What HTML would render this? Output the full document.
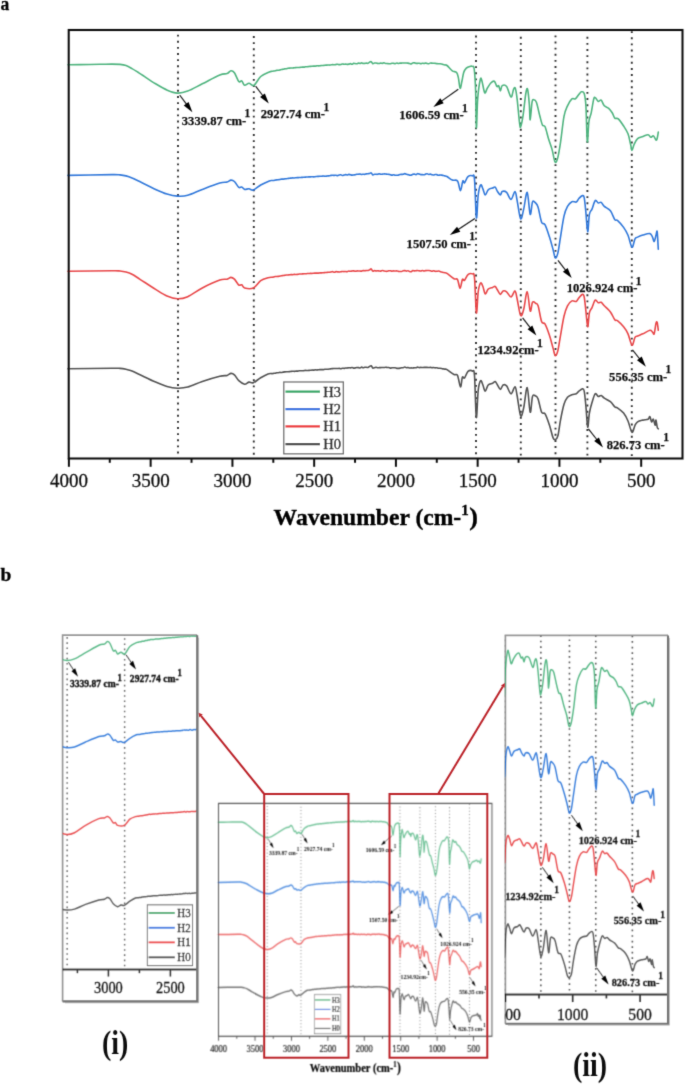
<!DOCTYPE html><html><head><meta charset="utf-8"><title>FTIR</title><style>html,body{margin:0;padding:0;background:#fff;width:685px;height:1085px;overflow:hidden}svg{display:block}</style></head><body>
<svg width="685" height="1085" viewBox="0 0 685 1085">
<defs><g id="fig"><line x1="178.0" y1="34.7" x2="178.0" y2="457" style="stroke:var(--dc,#333)" stroke-width="1.9" stroke-dasharray="1.9 4.23"/>
<line x1="253.8" y1="36.0" x2="253.8" y2="457" style="stroke:var(--dc,#333)" stroke-width="1.9" stroke-dasharray="1.9 4.23"/>
<line x1="476.0" y1="35.5" x2="476.0" y2="457" style="stroke:var(--dc,#333)" stroke-width="1.9" stroke-dasharray="1.9 4.23"/>
<line x1="520.8" y1="36.8" x2="520.8" y2="457" style="stroke:var(--dc,#333)" stroke-width="1.9" stroke-dasharray="1.9 4.23"/>
<line x1="555.5" y1="35.4" x2="555.5" y2="457" style="stroke:var(--dc,#333)" stroke-width="1.9" stroke-dasharray="1.9 4.23"/>
<line x1="587.4" y1="36.8" x2="587.4" y2="457" style="stroke:var(--dc,#333)" stroke-width="1.9" stroke-dasharray="1.9 4.23"/>
<line x1="631.8" y1="31.2" x2="631.8" y2="457" style="stroke:var(--dc,#333)" stroke-width="1.9" stroke-dasharray="1.9 4.23"/>
<path d="M68.00,64.80C70.00,64.77 74.67,64.68 80.00,64.60C85.33,64.52 94.67,64.38 100.00,64.30C105.33,64.22 108.67,64.08 112.00,64.10C115.33,64.12 117.67,64.15 120.00,64.40C122.33,64.65 124.00,64.90 126.00,65.60C128.00,66.30 130.00,67.48 132.00,68.60C134.00,69.72 136.17,71.15 138.00,72.30C139.83,73.45 140.07,73.58 143.00,75.50C145.93,77.42 151.55,81.35 155.60,83.80C159.65,86.25 163.65,88.65 167.30,90.20C170.95,91.75 174.10,92.95 177.50,93.10C180.90,93.25 183.57,92.65 187.70,91.10C191.83,89.55 196.95,86.48 202.30,83.80C207.65,81.12 215.67,76.70 219.80,75.00C223.93,73.30 225.25,74.32 227.10,73.60C228.95,72.88 229.68,70.85 230.90,70.70C232.12,70.55 233.08,70.90 234.40,72.70C235.72,74.50 237.58,80.13 238.80,81.50C240.02,82.87 240.73,80.27 241.70,80.90C242.67,81.53 243.38,84.92 244.60,85.30C245.82,85.68 247.43,83.20 249.00,83.20C250.57,83.20 252.05,86.42 254.00,85.30C255.95,84.18 258.15,78.73 260.70,76.50C263.25,74.27 267.42,72.76 269.30,71.90C271.18,71.04 271.28,71.49 272.00,71.34C272.72,71.19 273.07,71.08 273.60,70.99C274.13,70.91 274.67,70.95 275.20,70.84C275.73,70.74 276.27,70.48 276.80,70.37C277.33,70.27 277.87,70.30 278.40,70.21C278.93,70.13 279.47,69.99 280.00,69.86C280.53,69.74 281.07,69.57 281.60,69.47C282.13,69.38 282.67,69.41 283.20,69.31C283.73,69.21 284.27,68.97 284.80,68.87C285.33,68.77 285.87,68.79 286.40,68.69C286.93,68.59 287.47,68.38 288.00,68.28C288.53,68.18 289.07,68.13 289.60,68.09C290.13,68.05 290.67,68.06 291.20,68.05C291.73,68.05 292.27,68.10 292.80,68.04C293.33,67.98 293.87,67.77 294.40,67.69C294.93,67.61 295.47,67.60 296.00,67.58C296.53,67.56 297.07,67.58 297.60,67.57C298.13,67.56 298.67,67.58 299.20,67.53C299.73,67.48 300.27,67.35 300.80,67.28C301.33,67.21 301.87,67.11 302.40,67.09C302.93,67.06 303.47,67.19 304.00,67.12C304.53,67.06 305.07,66.76 305.60,66.71C306.13,66.66 306.67,66.85 307.20,66.82C307.73,66.78 308.27,66.59 308.80,66.51C309.33,66.43 309.87,66.38 310.40,66.33C310.93,66.27 311.47,66.22 312.00,66.18C312.53,66.14 313.07,66.11 313.60,66.10C314.13,66.09 314.67,66.18 315.20,66.13C315.73,66.08 316.27,65.88 316.80,65.83C317.33,65.78 317.87,65.85 318.40,65.83C318.93,65.82 319.47,65.78 320.00,65.74C320.53,65.69 321.07,65.59 321.60,65.54C322.13,65.50 322.67,65.53 323.20,65.48C323.73,65.43 324.27,65.28 324.80,65.22C325.33,65.16 325.87,65.14 326.40,65.11C326.93,65.08 327.47,65.04 328.00,65.04C328.53,65.03 329.07,65.10 329.60,65.07C330.13,65.03 330.67,64.91 331.20,64.83C331.73,64.76 332.27,64.63 332.80,64.62C333.33,64.60 333.87,64.76 334.40,64.75C334.93,64.73 335.47,64.59 336.00,64.51C336.53,64.44 337.07,64.26 337.60,64.28C338.13,64.30 338.67,64.62 339.20,64.65C339.73,64.69 340.27,64.60 340.80,64.49C341.33,64.38 341.87,64.05 342.40,64.00C342.93,63.96 343.47,64.21 344.00,64.23C344.53,64.24 345.07,64.09 345.60,64.11C346.13,64.13 346.67,64.34 347.20,64.35C347.73,64.35 348.27,64.25 348.80,64.14C349.33,64.03 349.87,63.65 350.40,63.67C350.93,63.68 351.47,64.26 352.00,64.21C352.53,64.16 353.07,63.47 353.60,63.36C354.13,63.25 354.67,63.48 355.20,63.56C355.73,63.63 356.27,63.85 356.80,63.78C357.33,63.72 357.87,63.23 358.40,63.16C358.93,63.10 359.47,63.43 360.00,63.39C360.53,63.35 361.07,62.91 361.60,62.91C362.13,62.91 362.67,63.32 363.20,63.40C363.73,63.49 364.27,63.45 364.80,63.41C365.33,63.37 365.87,63.17 366.40,63.16C366.93,63.16 367.47,63.53 368.00,63.36C368.53,63.19 369.07,62.42 369.60,62.14C370.13,61.86 370.67,61.43 371.20,61.69C371.73,61.96 372.27,63.50 372.80,63.73C373.33,63.97 373.87,63.20 374.40,63.08C374.93,62.96 375.47,62.94 376.00,63.00C376.53,63.05 377.07,63.29 377.60,63.38C378.13,63.47 378.67,63.56 379.20,63.51C379.73,63.47 380.27,63.16 380.80,63.13C381.33,63.10 381.87,63.39 382.40,63.34C382.93,63.29 383.47,62.82 384.00,62.84C384.53,62.86 385.07,63.35 385.60,63.45C386.13,63.56 386.67,63.39 387.20,63.45C387.73,63.50 388.27,63.76 388.80,63.80C389.33,63.84 389.87,63.78 390.40,63.68C390.93,63.59 391.47,63.29 392.00,63.24C392.53,63.19 393.07,63.30 393.60,63.37C394.13,63.44 394.67,63.70 395.20,63.65C395.73,63.59 396.27,63.09 396.80,63.05C397.33,63.01 397.87,63.41 398.40,63.43C398.93,63.45 399.47,63.21 400.00,63.15C400.53,63.10 401.07,63.12 401.60,63.09C402.13,63.06 402.67,63.02 403.20,63.00C403.73,62.98 404.27,62.98 404.80,62.97C405.33,62.97 405.87,62.93 406.40,62.96C406.93,62.99 407.47,63.05 408.00,63.15C408.53,63.24 409.07,63.38 409.60,63.53C410.13,63.68 410.67,64.15 411.20,64.05C411.73,63.94 412.27,63.10 412.80,62.90C413.33,62.71 413.87,62.81 414.40,62.88C414.93,62.95 415.47,63.26 416.00,63.34C416.53,63.43 417.07,63.40 417.60,63.37C418.13,63.35 418.67,63.14 419.20,63.18C419.73,63.21 420.27,63.58 420.80,63.58C421.33,63.59 421.87,63.20 422.40,63.19C422.93,63.18 423.47,63.56 424.00,63.54C424.53,63.52 425.07,63.09 425.60,63.09C426.13,63.09 426.67,63.46 427.20,63.56C427.73,63.67 428.27,63.79 428.80,63.70C429.33,63.62 429.87,63.14 430.40,63.05C430.93,62.96 431.47,63.11 432.00,63.14C432.53,63.18 433.07,63.24 433.60,63.27C434.13,63.30 434.67,63.28 435.20,63.34C435.73,63.40 436.27,63.56 436.80,63.64C437.33,63.72 437.87,63.80 438.40,63.81C438.93,63.82 439.47,63.67 440.00,63.71C440.53,63.74 441.07,63.85 441.60,63.99C442.13,64.13 442.67,64.39 443.20,64.54C443.73,64.70 444.17,64.75 444.80,64.91C445.43,65.07 445.75,64.52 447.00,65.50C448.25,66.48 450.70,69.63 452.30,70.80C453.90,71.97 455.58,71.33 456.60,72.50C457.62,73.67 457.82,75.17 458.40,77.80C458.98,80.43 459.52,87.72 460.10,88.30C460.68,88.88 461.30,83.93 461.90,81.30C462.50,78.67 462.97,74.70 463.70,72.50C464.43,70.30 465.28,69.12 466.30,68.10C467.32,67.08 468.78,66.68 469.80,66.40C470.82,66.12 471.67,65.97 472.40,66.40C473.13,66.83 473.67,65.07 474.20,69.00C474.73,72.93 475.23,80.22 475.60,90.00C475.97,99.78 476.05,126.23 476.40,127.70C476.75,129.17 477.05,106.83 477.70,98.80C478.35,90.77 479.58,82.42 480.30,79.50C481.02,76.58 481.27,79.10 482.00,81.30C482.73,83.50 483.82,91.53 484.70,92.70C485.58,93.87 486.28,89.92 487.30,88.30C488.32,86.68 489.63,84.17 490.80,83.00C491.97,81.83 493.28,80.72 494.30,81.30C495.32,81.88 496.17,85.77 496.90,86.50C497.63,87.23 498.12,84.97 498.70,85.70C499.28,86.43 499.82,90.90 500.40,90.90C500.98,90.90 501.17,86.43 502.20,85.70C503.23,84.97 505.13,84.62 506.60,86.50C508.07,88.38 509.83,96.55 511.00,97.00C512.17,97.45 512.88,90.65 513.60,89.20C514.32,87.75 514.72,86.70 515.30,88.30C515.88,89.90 516.37,92.82 517.10,98.80C517.83,104.78 519.07,119.67 519.70,124.20C520.33,128.73 520.32,127.60 520.90,126.00C521.48,124.40 522.38,120.02 523.20,114.60C524.02,109.18 525.07,97.73 525.80,93.50C526.53,89.27 527.02,87.45 527.60,89.20C528.18,90.95 528.87,98.90 529.30,104.00C529.73,109.10 529.75,120.08 530.20,119.80C530.65,119.52 531.42,105.65 532.00,102.30C532.58,98.95 532.97,99.70 533.70,99.70C534.43,99.70 535.37,99.53 536.40,102.30C537.43,105.07 538.88,112.50 539.90,116.30C540.92,120.10 541.63,123.35 542.50,125.10C543.37,126.85 544.08,124.47 545.10,126.80C546.12,129.13 547.43,135.30 548.60,139.10C549.77,142.90 551.03,145.80 552.10,149.60C553.17,153.40 554.08,160.43 555.00,161.90C555.92,163.37 556.68,161.62 557.60,158.40C558.52,155.18 559.43,149.62 560.50,142.60C561.57,135.58 562.83,122.43 564.00,116.30C565.17,110.17 566.18,108.72 567.50,105.80C568.82,102.88 570.58,99.97 571.90,98.80C573.22,97.63 574.23,99.53 575.40,98.80C576.57,98.07 577.88,95.57 578.90,94.40C579.92,93.23 580.62,91.95 581.50,91.80C582.38,91.65 583.47,91.17 584.20,93.50C584.93,95.83 585.38,97.77 585.90,105.80C586.42,113.83 586.80,139.07 587.30,141.70C587.80,144.33 588.25,126.42 588.90,121.60C589.55,116.78 590.38,116.60 591.20,112.80C592.02,109.00 593.08,101.28 593.80,98.80C594.52,96.32 594.77,97.47 595.50,97.90C596.23,98.33 597.25,101.02 598.20,101.40C599.15,101.78 600.18,99.47 601.20,100.20C602.22,100.93 603.05,104.43 604.30,105.80C605.55,107.17 607.38,107.23 608.70,108.40C610.02,109.57 611.18,111.18 612.20,112.80C613.22,114.42 613.78,117.08 614.80,118.10C615.82,119.12 616.83,117.58 618.30,118.90C619.77,120.22 621.98,123.52 623.60,126.00C625.22,128.48 626.83,130.75 628.00,133.80C629.17,136.85 629.93,141.52 630.60,144.30C631.27,147.08 631.42,150.50 632.00,150.50C632.58,150.50 633.17,146.27 634.10,144.30C635.03,142.33 636.13,140.00 637.60,138.70C639.07,137.40 641.15,137.17 642.90,136.50C644.65,135.83 646.80,134.57 648.10,134.70C649.40,134.83 649.82,137.10 650.70,137.30C651.58,137.50 652.52,135.45 653.40,135.90C654.28,136.35 655.37,139.62 656.00,140.00C656.63,140.38 656.82,139.52 657.20,138.20C657.58,136.88 658.12,133.12 658.30,132.10" fill="none" stroke="#4fb47f" style="stroke-width:var(--tw,1.6);stroke-opacity:var(--to,1)" stroke-linejoin="round" stroke-linecap="round"/>
<path d="M68.00,175.40C75.33,175.27 103.33,174.68 112.00,174.60C120.67,174.52 117.67,174.68 120.00,174.90C122.33,175.12 124.00,175.40 126.00,175.90C128.00,176.40 130.00,177.08 132.00,177.90C134.00,178.72 134.07,178.88 138.00,180.80C141.93,182.72 150.77,187.20 155.60,189.40C160.43,191.60 163.35,192.88 167.00,194.00C170.65,195.12 174.05,195.88 177.50,196.10C180.95,196.32 183.57,196.42 187.70,195.30C191.83,194.18 196.95,191.45 202.30,189.40C207.65,187.35 215.67,184.22 219.80,183.00C223.93,181.78 225.25,182.58 227.10,182.10C228.95,181.62 229.68,180.20 230.90,180.10C232.12,180.00 233.08,180.28 234.40,181.50C235.72,182.72 237.58,186.48 238.80,187.40C240.02,188.32 240.73,186.67 241.70,187.00C242.67,187.33 243.38,189.10 244.60,189.40C245.82,189.70 247.53,188.70 249.00,188.80C250.47,188.90 251.45,190.63 253.40,190.00C255.35,189.37 258.05,186.52 260.70,185.00C263.35,183.48 267.42,181.64 269.30,180.90C271.18,180.16 271.28,180.63 272.00,180.56C272.72,180.48 273.07,180.52 273.60,180.46C274.13,180.39 274.67,180.26 275.20,180.16C275.73,180.07 276.27,179.97 276.80,179.89C277.33,179.82 277.87,179.77 278.40,179.71C278.93,179.65 279.47,179.61 280.00,179.51C280.53,179.41 281.07,179.17 281.60,179.11C282.13,179.05 282.67,179.18 283.20,179.15C283.73,179.11 284.27,178.97 284.80,178.90C285.33,178.82 285.87,178.78 286.40,178.71C286.93,178.64 287.47,178.55 288.00,178.47C288.53,178.39 289.07,178.27 289.60,178.21C290.13,178.15 290.67,178.16 291.20,178.11C291.73,178.06 292.27,177.94 292.80,177.92C293.33,177.90 293.87,178.01 294.40,177.98C294.93,177.94 295.47,177.77 296.00,177.71C296.53,177.65 297.07,177.64 297.60,177.61C298.13,177.58 298.67,177.58 299.20,177.55C299.73,177.52 300.27,177.47 300.80,177.44C301.33,177.41 301.87,177.43 302.40,177.39C302.93,177.35 303.47,177.26 304.00,177.21C304.53,177.16 305.07,177.12 305.60,177.09C306.13,177.06 306.67,177.07 307.20,177.04C307.73,177.01 308.27,176.95 308.80,176.92C309.33,176.90 309.87,176.94 310.40,176.90C310.93,176.86 311.47,176.71 312.00,176.70C312.53,176.69 313.07,176.86 313.60,176.86C314.13,176.85 314.67,176.75 315.20,176.68C315.73,176.61 316.27,176.50 316.80,176.45C317.33,176.40 317.87,176.41 318.40,176.39C318.93,176.37 319.47,176.35 320.00,176.32C320.53,176.30 321.07,176.28 321.60,176.24C322.13,176.20 322.67,176.08 323.20,176.07C323.73,176.07 324.27,176.19 324.80,176.20C325.33,176.21 325.87,176.20 326.40,176.15C326.93,176.10 327.47,175.95 328.00,175.90C328.53,175.84 329.07,175.90 329.60,175.81C330.13,175.72 330.67,175.44 331.20,175.35C331.73,175.26 332.27,175.27 332.80,175.27C333.33,175.28 333.87,175.40 334.40,175.40C334.93,175.39 335.47,175.19 336.00,175.23C336.53,175.28 337.07,175.70 337.60,175.66C338.13,175.62 338.67,175.13 339.20,174.98C339.73,174.84 340.27,174.69 340.80,174.78C341.33,174.87 341.87,175.49 342.40,175.54C342.93,175.59 343.47,175.23 344.00,175.08C344.53,174.94 345.07,174.69 345.60,174.67C346.13,174.64 346.67,174.99 347.20,174.95C347.73,174.90 348.27,174.43 348.80,174.41C349.33,174.38 349.87,174.66 350.40,174.78C350.93,174.90 351.47,175.09 352.00,175.11C352.53,175.14 353.07,175.00 353.60,174.93C354.13,174.86 354.67,174.82 355.20,174.71C355.73,174.59 356.27,174.31 356.80,174.24C357.33,174.16 357.87,174.30 358.40,174.26C358.93,174.22 359.47,173.97 360.00,174.00C360.53,174.04 361.07,174.44 361.60,174.47C362.13,174.50 362.67,174.20 363.20,174.18C363.73,174.16 364.27,174.38 364.80,174.33C365.33,174.27 365.87,173.95 366.40,173.85C366.93,173.74 367.47,173.73 368.00,173.67C368.53,173.61 369.07,173.62 369.60,173.49C370.13,173.35 370.67,172.63 371.20,172.86C371.73,173.10 372.27,174.67 372.80,174.90C373.33,175.13 373.87,174.34 374.40,174.25C374.93,174.15 375.47,174.30 376.00,174.31C376.53,174.32 377.07,174.37 377.60,174.31C378.13,174.24 378.67,173.92 379.20,173.91C379.73,173.90 380.27,174.20 380.80,174.24C381.33,174.28 381.87,174.21 382.40,174.16C382.93,174.11 383.47,173.96 384.00,173.93C384.53,173.91 385.07,173.94 385.60,174.00C386.13,174.06 386.67,174.23 387.20,174.29C387.73,174.35 388.27,174.25 388.80,174.34C389.33,174.42 389.87,174.67 390.40,174.79C390.93,174.92 391.47,175.11 392.00,175.10C392.53,175.08 393.07,174.69 393.60,174.71C394.13,174.72 394.67,175.10 395.20,175.18C395.73,175.26 396.27,175.20 396.80,175.19C397.33,175.18 397.87,175.23 398.40,175.13C398.93,175.02 399.47,174.68 400.00,174.56C400.53,174.44 401.07,174.43 401.60,174.40C402.13,174.36 402.67,174.47 403.20,174.34C403.73,174.21 404.27,173.66 404.80,173.63C405.33,173.61 405.87,174.02 406.40,174.18C406.93,174.34 407.47,174.47 408.00,174.62C408.53,174.78 409.07,175.02 409.60,175.10C410.13,175.18 410.67,175.24 411.20,175.11C411.73,174.99 412.27,174.50 412.80,174.34C413.33,174.17 413.87,174.07 414.40,174.12C414.93,174.16 415.47,174.68 416.00,174.60C416.53,174.53 417.07,173.77 417.60,173.67C418.13,173.57 418.67,173.87 419.20,174.03C419.73,174.18 420.27,174.50 420.80,174.60C421.33,174.69 421.87,174.57 422.40,174.60C422.93,174.63 423.47,174.86 424.00,174.78C424.53,174.69 425.07,174.27 425.60,174.11C426.13,173.96 426.67,173.77 427.20,173.83C427.73,173.90 428.27,174.43 428.80,174.48C429.33,174.54 429.87,174.13 430.40,174.17C430.93,174.20 431.47,174.56 432.00,174.69C432.53,174.81 433.07,174.97 433.60,174.94C434.13,174.91 434.67,174.57 435.20,174.52C435.73,174.46 436.27,174.50 436.80,174.62C437.33,174.73 437.87,175.14 438.40,175.21C438.93,175.27 439.47,175.00 440.00,174.99C440.53,174.98 441.07,175.05 441.60,175.13C442.13,175.22 442.67,175.36 443.20,175.48C443.73,175.60 444.17,175.69 444.80,175.86C445.43,176.03 445.75,175.79 447.00,176.50C448.25,177.21 450.55,179.35 452.30,180.10C454.05,180.85 456.13,179.23 457.50,181.00C458.87,182.77 459.62,190.70 460.50,190.70C461.38,190.70 462.13,182.32 462.80,181.00C463.47,179.68 463.63,183.53 464.50,182.80C465.37,182.07 466.68,177.77 468.00,176.60C469.32,175.43 471.32,175.35 472.40,175.80C473.48,176.25 473.83,172.30 474.50,179.30C475.17,186.30 475.78,215.18 476.40,217.80C477.02,220.42 477.50,200.48 478.20,195.00C478.90,189.52 479.82,185.92 480.60,184.90C481.38,183.88 482.13,187.22 482.90,188.90C483.67,190.58 484.32,194.85 485.20,195.00C486.08,195.15 486.97,190.97 488.20,189.80C489.43,188.63 491.43,188.43 492.60,188.00C493.77,187.57 494.38,186.62 495.20,187.20C496.02,187.78 496.63,190.20 497.50,191.50C498.37,192.80 499.62,195.00 500.40,195.00C501.18,195.00 501.17,191.93 502.20,191.50C503.23,191.07 505.13,191.08 506.60,192.40C508.07,193.72 509.60,199.55 511.00,199.40C512.40,199.25 513.98,191.35 515.00,191.50C516.02,191.65 516.17,195.77 517.10,200.30C518.03,204.83 519.50,217.23 520.60,218.70C521.70,220.17 522.60,213.48 523.70,209.10C524.80,204.72 526.12,191.53 527.20,192.40C528.28,193.27 529.32,212.70 530.20,214.30C531.08,215.90 531.62,203.90 532.50,202.00C533.38,200.10 534.57,202.02 535.50,202.90C536.43,203.78 537.08,204.08 538.10,207.30C539.12,210.52 540.43,219.28 541.60,222.20C542.77,225.12 543.78,222.32 545.10,224.80C546.42,227.28 548.18,233.02 549.50,237.10C550.82,241.18 552.03,245.83 553.00,249.30C553.97,252.77 554.48,257.30 555.30,257.90C556.12,258.50 557.03,256.37 557.90,252.90C558.77,249.43 559.48,243.23 560.50,237.10C561.52,230.97 562.83,221.22 564.00,216.10C565.17,210.98 566.18,208.80 567.50,206.40C568.82,204.00 570.43,202.43 571.90,201.70C573.37,200.97 575.13,202.53 576.30,202.00C577.47,201.47 577.88,199.57 578.90,198.50C579.92,197.43 581.52,195.73 582.40,195.60C583.28,195.47 583.62,194.87 584.20,197.70C584.78,200.53 585.32,206.92 585.90,212.60C586.48,218.28 587.12,231.52 587.70,231.80C588.28,232.08 588.68,218.08 589.40,214.30C590.12,210.52 591.03,211.38 592.00,209.10C592.97,206.82 594.17,201.63 595.20,200.60C596.23,199.57 597.20,202.60 598.20,202.90C599.20,203.20 600.18,201.82 601.20,202.40C602.22,202.98 602.77,205.00 604.30,206.40C605.83,207.80 608.65,208.60 610.40,210.80C612.15,213.00 613.63,218.00 614.80,219.60C615.97,221.20 615.93,219.10 617.40,220.40C618.87,221.70 621.83,224.92 623.60,227.40C625.37,229.88 626.60,232.00 628.00,235.30C629.40,238.60 630.83,246.62 632.00,247.20C633.17,247.78 634.07,240.48 635.00,238.80C635.93,237.12 636.28,237.73 637.60,237.10C638.92,236.47 640.85,235.58 642.90,235.00C644.95,234.42 648.30,233.25 649.90,233.60C651.50,233.95 651.78,235.78 652.50,237.10C653.22,238.42 653.62,241.80 654.20,241.50C654.78,241.20 655.50,236.92 656.00,235.30C656.50,233.68 656.82,229.47 657.20,231.80C657.58,234.13 658.12,246.38 658.30,249.30" fill="none" stroke="#3078da" style="stroke-width:var(--tw,1.6);stroke-opacity:var(--to,1)" stroke-linejoin="round" stroke-linecap="round"/>
<path d="M68.00,271.30C75.33,271.22 103.33,270.85 112.00,270.80C120.67,270.75 117.67,270.80 120.00,271.00C122.33,271.20 124.00,271.47 126.00,272.00C128.00,272.53 129.67,272.98 132.00,274.20C134.33,275.42 136.07,276.77 140.00,279.30C143.93,281.83 151.10,286.62 155.60,289.40C160.10,292.18 163.35,294.43 167.00,296.00C170.65,297.57 174.05,298.68 177.50,298.80C180.95,298.92 183.57,298.50 187.70,296.70C191.83,294.90 196.95,290.77 202.30,288.00C207.65,285.23 215.67,281.57 219.80,280.10C223.93,278.63 225.25,279.65 227.10,279.20C228.95,278.75 229.68,277.40 230.90,277.40C232.12,277.40 233.08,277.93 234.40,279.20C235.72,280.47 237.58,284.07 238.80,285.00C240.02,285.93 240.73,284.30 241.70,284.80C242.67,285.30 242.65,287.47 244.60,288.00C246.55,288.53 250.72,289.22 253.40,288.00C256.08,286.78 258.27,282.42 260.70,280.70C263.13,278.98 266.12,278.27 268.00,277.70C269.88,277.13 271.07,277.37 272.00,277.26C272.93,277.14 273.07,277.12 273.60,277.00C274.13,276.89 274.67,276.65 275.20,276.58C275.73,276.51 276.27,276.59 276.80,276.56C277.33,276.53 277.87,276.46 278.40,276.38C278.93,276.30 279.47,276.16 280.00,276.06C280.53,275.95 281.07,275.82 281.60,275.74C282.13,275.66 282.67,275.66 283.20,275.57C283.73,275.49 284.27,275.33 284.80,275.22C285.33,275.12 285.87,275.00 286.40,274.96C286.93,274.93 287.47,275.06 288.00,275.03C288.53,275.00 289.07,274.85 289.60,274.78C290.13,274.72 290.67,274.67 291.20,274.65C291.73,274.63 292.27,274.71 292.80,274.67C293.33,274.63 293.87,274.46 294.40,274.42C294.93,274.38 295.47,274.46 296.00,274.45C296.53,274.44 297.07,274.40 297.60,274.34C298.13,274.27 298.67,274.12 299.20,274.05C299.73,273.99 300.27,274.00 300.80,273.97C301.33,273.94 301.87,273.91 302.40,273.88C302.93,273.84 303.47,273.78 304.00,273.76C304.53,273.74 305.07,273.80 305.60,273.77C306.13,273.74 306.67,273.61 307.20,273.57C307.73,273.53 308.27,273.56 308.80,273.52C309.33,273.48 309.87,273.34 310.40,273.33C310.93,273.32 311.47,273.49 312.00,273.47C312.53,273.44 313.07,273.25 313.60,273.20C314.13,273.14 314.67,273.16 315.20,273.14C315.73,273.12 316.27,273.09 316.80,273.08C317.33,273.07 317.87,273.12 318.40,273.08C318.93,273.05 319.47,272.88 320.00,272.85C320.53,272.82 321.07,272.93 321.60,272.90C322.13,272.88 322.67,272.74 323.20,272.69C323.73,272.64 324.27,272.63 324.80,272.60C325.33,272.57 325.87,272.56 326.40,272.51C326.93,272.45 327.47,272.30 328.00,272.26C328.53,272.23 329.07,272.35 329.60,272.30C330.13,272.24 330.67,272.04 331.20,271.94C331.73,271.84 332.27,271.62 332.80,271.68C333.33,271.75 333.87,272.31 334.40,272.31C334.93,272.30 335.47,271.73 336.00,271.65C336.53,271.57 337.07,271.78 337.60,271.84C338.13,271.89 338.67,272.00 339.20,271.99C339.73,271.98 340.27,271.85 340.80,271.76C341.33,271.68 341.87,271.51 342.40,271.48C342.93,271.45 343.47,271.57 344.00,271.58C344.53,271.58 345.07,271.52 345.60,271.53C346.13,271.55 346.67,271.76 347.20,271.66C347.73,271.57 348.27,271.04 348.80,270.98C349.33,270.92 349.87,271.31 350.40,271.31C350.93,271.31 351.47,271.02 352.00,270.95C352.53,270.89 353.07,270.85 353.60,270.90C354.13,270.96 354.67,271.26 355.20,271.27C355.73,271.28 356.27,271.02 356.80,270.96C357.33,270.90 357.87,270.92 358.40,270.93C358.93,270.95 359.47,271.01 360.00,271.04C360.53,271.06 361.07,271.17 361.60,271.10C362.13,271.02 362.67,270.67 363.20,270.60C363.73,270.53 364.27,270.69 364.80,270.68C365.33,270.66 365.87,270.54 366.40,270.50C366.93,270.46 367.47,270.54 368.00,270.43C368.53,270.33 369.07,270.14 369.60,269.88C370.13,269.62 370.67,268.68 371.20,268.88C371.73,269.09 372.27,270.85 372.80,271.12C373.33,271.38 373.87,270.48 374.40,270.45C374.93,270.42 375.47,270.87 376.00,270.92C376.53,270.97 377.07,270.76 377.60,270.77C378.13,270.78 378.67,270.94 379.20,271.00C379.73,271.05 380.27,271.19 380.80,271.12C381.33,271.05 381.87,270.61 382.40,270.57C382.93,270.54 383.47,270.78 384.00,270.91C384.53,271.03 385.07,271.26 385.60,271.32C386.13,271.39 386.67,271.39 387.20,271.29C387.73,271.20 388.27,270.81 388.80,270.73C389.33,270.64 389.87,270.71 390.40,270.78C390.93,270.85 391.47,271.12 392.00,271.14C392.53,271.15 393.07,270.88 393.60,270.87C394.13,270.86 394.67,271.06 395.20,271.06C395.73,271.06 396.27,270.82 396.80,270.87C397.33,270.92 397.87,271.28 398.40,271.37C398.93,271.47 399.47,271.42 400.00,271.44C400.53,271.46 401.07,271.62 401.60,271.51C402.13,271.40 402.67,270.93 403.20,270.78C403.73,270.63 404.27,270.55 404.80,270.60C405.33,270.65 405.87,271.08 406.40,271.09C406.93,271.11 407.47,270.61 408.00,270.69C408.53,270.77 409.07,271.41 409.60,271.59C410.13,271.76 410.67,271.89 411.20,271.73C411.73,271.56 412.27,270.74 412.80,270.60C413.33,270.46 413.87,270.87 414.40,270.89C414.93,270.91 415.47,270.80 416.00,270.74C416.53,270.68 417.07,270.52 417.60,270.53C418.13,270.55 418.67,270.74 419.20,270.82C419.73,270.91 420.27,271.08 420.80,271.03C421.33,270.98 421.87,270.55 422.40,270.54C422.93,270.53 423.47,270.97 424.00,270.99C424.53,271.01 425.07,270.73 425.60,270.65C426.13,270.56 426.67,270.51 427.20,270.49C427.73,270.46 428.27,270.44 428.80,270.48C429.33,270.52 429.87,270.59 430.40,270.71C430.93,270.83 431.47,271.20 432.00,271.19C432.53,271.19 433.07,270.67 433.60,270.68C434.13,270.70 434.67,271.18 435.20,271.29C435.73,271.39 436.27,271.34 436.80,271.30C437.33,271.26 437.87,271.01 438.40,271.05C438.93,271.08 439.47,271.36 440.00,271.53C440.53,271.70 441.07,271.91 441.60,272.06C442.13,272.21 442.67,272.33 443.20,272.43C443.73,272.53 444.17,272.50 444.80,272.66C445.43,272.82 445.47,272.39 447.00,273.40C448.53,274.41 452.25,277.68 454.00,278.70C455.75,279.72 456.48,277.90 457.50,279.50C458.52,281.10 459.28,288.30 460.10,288.30C460.92,288.30 461.67,280.82 462.40,279.50C463.13,278.18 463.57,281.22 464.50,280.40C465.43,279.58 466.68,275.68 468.00,274.60C469.32,273.52 471.32,273.37 472.40,273.90C473.48,274.43 473.83,271.32 474.50,277.80C475.17,284.28 475.78,310.47 476.40,312.80C477.02,315.13 477.50,296.77 478.20,291.80C478.90,286.83 479.82,283.88 480.60,283.00C481.38,282.12 482.13,284.68 482.90,286.50C483.67,288.32 484.32,293.45 485.20,293.90C486.08,294.35 486.97,290.28 488.20,289.20C489.43,288.12 491.43,287.85 492.60,287.40C493.77,286.95 494.38,286.07 495.20,286.50C496.02,286.93 496.63,288.68 497.50,290.00C498.37,291.32 499.47,294.25 500.40,294.40C501.33,294.55 502.07,291.33 503.10,290.90C504.13,290.47 505.28,290.78 506.60,291.80C507.92,292.82 509.60,297.15 511.00,297.00C512.40,296.85 513.98,290.60 515.00,290.90C516.02,291.20 516.17,294.72 517.10,298.80C518.03,302.88 519.50,313.65 520.60,315.40C521.70,317.15 522.60,313.23 523.70,309.30C524.80,305.37 526.12,291.52 527.20,291.80C528.28,292.08 529.32,309.25 530.20,311.00C531.08,312.75 531.62,303.60 532.50,302.30C533.38,301.00 534.57,302.62 535.50,303.20C536.43,303.78 537.08,302.73 538.10,305.80C539.12,308.87 540.43,318.53 541.60,321.60C542.77,324.67 543.78,321.87 545.10,324.20C546.42,326.53 548.18,331.65 549.50,335.60C550.82,339.55 552.03,344.55 553.00,347.90C553.97,351.25 554.48,355.27 555.30,355.70C556.12,356.13 557.03,353.85 557.90,350.50C558.77,347.15 559.48,341.30 560.50,335.60C561.52,329.90 562.83,321.27 564.00,316.30C565.17,311.33 566.18,308.37 567.50,305.80C568.82,303.23 570.43,301.63 571.90,300.90C573.37,300.17 575.13,301.90 576.30,301.40C577.47,300.90 577.88,299.07 578.90,297.90C579.92,296.73 581.52,294.55 582.40,294.40C583.28,294.25 583.62,294.22 584.20,297.00C584.78,299.78 585.32,306.13 585.90,311.10C586.48,316.07 587.12,326.52 587.70,326.80C588.28,327.08 588.68,316.00 589.40,312.80C590.12,309.60 591.03,309.70 592.00,307.60C592.97,305.50 594.17,301.02 595.20,300.20C596.23,299.38 597.20,302.35 598.20,302.70C599.20,303.05 600.18,301.78 601.20,302.30C602.22,302.82 602.77,304.20 604.30,305.80C605.83,307.40 608.65,309.57 610.40,311.90C612.15,314.23 613.63,318.33 614.80,319.80C615.97,321.27 615.93,319.53 617.40,320.70C618.87,321.87 621.83,324.62 623.60,326.80C625.37,328.98 626.60,330.73 628.00,333.80C629.40,336.87 630.83,344.62 632.00,345.20C633.17,345.78 634.07,338.85 635.00,337.30C635.93,335.75 636.28,336.48 637.60,335.90C638.92,335.32 640.85,334.73 642.90,333.80C644.95,332.87 648.30,330.58 649.90,330.30C651.50,330.02 651.78,331.52 652.50,332.10C653.22,332.68 653.62,335.27 654.20,333.80C654.78,332.33 655.50,325.18 656.00,323.30C656.50,321.42 656.82,321.33 657.20,322.50C657.58,323.67 658.12,329.00 658.30,330.30" fill="none" stroke="#e84749" style="stroke-width:var(--tw,1.6);stroke-opacity:var(--to,1)" stroke-linejoin="round" stroke-linecap="round"/>
<path d="M68.00,368.70C75.33,368.62 103.33,368.25 112.00,368.20C120.67,368.15 117.67,368.22 120.00,368.40C122.33,368.58 124.00,368.88 126.00,369.30C128.00,369.72 129.67,370.00 132.00,370.90C134.33,371.80 136.07,372.83 140.00,374.70C143.93,376.57 151.10,380.13 155.60,382.10C160.10,384.07 163.35,385.48 167.00,386.50C170.65,387.52 174.05,388.10 177.50,388.20C180.95,388.30 183.57,388.22 187.70,387.10C191.83,385.98 196.95,383.30 202.30,381.50C207.65,379.70 215.67,377.32 219.80,376.30C223.93,375.28 225.25,375.88 227.10,375.40C228.95,374.92 229.68,373.50 230.90,373.40C232.12,373.30 233.08,373.58 234.40,374.80C235.72,376.02 237.10,379.13 238.80,380.70C240.50,382.27 242.90,383.97 244.60,384.20C246.30,384.43 247.53,382.35 249.00,382.10C250.47,381.85 251.45,383.43 253.40,382.70C255.35,381.97 258.27,379.17 260.70,377.70C263.13,376.23 266.12,374.58 268.00,373.90C269.88,373.22 271.07,373.69 272.00,373.60C272.93,373.51 273.07,373.42 273.60,373.36C274.13,373.30 274.67,373.33 275.20,373.24C275.73,373.14 276.27,372.89 276.80,372.80C277.33,372.70 277.87,372.73 278.40,372.67C278.93,372.61 279.47,372.46 280.00,372.42C280.53,372.39 281.07,372.51 281.60,372.47C282.13,372.42 282.67,372.23 283.20,372.13C283.73,372.04 284.27,371.97 284.80,371.91C285.33,371.86 285.87,371.84 286.40,371.82C286.93,371.80 287.47,371.82 288.00,371.79C288.53,371.76 289.07,371.70 289.60,371.63C290.13,371.56 290.67,371.43 291.20,371.37C291.73,371.30 292.27,371.23 292.80,371.23C293.33,371.23 293.87,371.38 294.40,371.36C294.93,371.35 295.47,371.20 296.00,371.16C296.53,371.12 297.07,371.16 297.60,371.10C298.13,371.04 298.67,370.88 299.20,370.82C299.73,370.75 300.27,370.71 300.80,370.71C301.33,370.70 301.87,370.81 302.40,370.80C302.93,370.78 303.47,370.68 304.00,370.62C304.53,370.55 305.07,370.42 305.60,370.41C306.13,370.41 306.67,370.58 307.20,370.57C307.73,370.57 308.27,370.42 308.80,370.38C309.33,370.34 309.87,370.39 310.40,370.33C310.93,370.27 311.47,370.05 312.00,370.02C312.53,369.99 313.07,370.18 313.60,370.15C314.13,370.12 314.67,369.85 315.20,369.82C315.73,369.79 316.27,369.98 316.80,369.96C317.33,369.95 317.87,369.81 318.40,369.75C318.93,369.69 319.47,369.65 320.00,369.62C320.53,369.60 321.07,369.60 321.60,369.59C322.13,369.59 322.67,369.66 323.20,369.61C323.73,369.57 324.27,369.39 324.80,369.32C325.33,369.25 325.87,369.21 326.40,369.19C326.93,369.17 327.47,369.24 328.00,369.22C328.53,369.19 329.07,369.13 329.60,369.04C330.13,368.95 330.67,368.74 331.20,368.67C331.73,368.60 332.27,368.67 332.80,368.63C333.33,368.59 333.87,368.46 334.40,368.43C334.93,368.41 335.47,368.47 336.00,368.48C336.53,368.49 337.07,368.50 337.60,368.49C338.13,368.48 338.67,368.37 339.20,368.41C339.73,368.45 340.27,368.77 340.80,368.74C341.33,368.72 341.87,368.31 342.40,368.25C342.93,368.18 343.47,368.40 344.00,368.36C344.53,368.32 345.07,368.04 345.60,367.99C346.13,367.95 346.67,368.12 347.20,368.07C347.73,368.02 348.27,367.74 348.80,367.70C349.33,367.66 349.87,367.86 350.40,367.83C350.93,367.81 351.47,367.50 352.00,367.54C352.53,367.59 353.07,368.06 353.60,368.11C354.13,368.17 354.67,367.98 355.20,367.87C355.73,367.77 356.27,367.51 356.80,367.47C357.33,367.44 357.87,367.57 358.40,367.65C358.93,367.74 359.47,368.07 360.00,367.99C360.53,367.91 361.07,367.21 361.60,367.17C362.13,367.13 362.67,367.71 363.20,367.74C363.73,367.76 364.27,367.39 364.80,367.31C365.33,367.24 365.87,367.26 366.40,367.29C366.93,367.33 367.47,367.67 368.00,367.52C368.53,367.38 369.07,366.71 369.60,366.41C370.13,366.11 370.67,365.46 371.20,365.73C371.73,366.01 372.27,367.73 372.80,368.05C373.33,368.38 373.87,367.85 374.40,367.70C374.93,367.56 375.47,367.19 376.00,367.18C376.53,367.18 377.07,367.61 377.60,367.69C378.13,367.77 378.67,367.65 379.20,367.64C379.73,367.64 380.27,367.67 380.80,367.65C381.33,367.62 381.87,367.52 382.40,367.50C382.93,367.48 383.47,367.55 384.00,367.52C384.53,367.49 385.07,367.33 385.60,367.32C386.13,367.31 386.67,367.43 387.20,367.46C387.73,367.48 388.27,367.36 388.80,367.47C389.33,367.58 389.87,368.09 390.40,368.14C390.93,368.19 391.47,367.83 392.00,367.77C392.53,367.70 393.07,367.76 393.60,367.75C394.13,367.74 394.67,367.61 395.20,367.72C395.73,367.82 396.27,368.26 396.80,368.36C397.33,368.47 397.87,368.39 398.40,368.35C398.93,368.32 399.47,368.24 400.00,368.14C400.53,368.04 401.07,367.83 401.60,367.75C402.13,367.67 402.67,367.78 403.20,367.66C403.73,367.53 404.27,367.01 404.80,367.02C405.33,367.03 405.87,367.63 406.40,367.71C406.93,367.79 407.47,367.46 408.00,367.50C408.53,367.55 409.07,367.93 409.60,367.99C410.13,368.06 410.67,367.88 411.20,367.89C411.73,367.91 412.27,368.10 412.80,368.07C413.33,368.04 413.87,367.77 414.40,367.71C414.93,367.64 415.47,367.78 416.00,367.68C416.53,367.58 417.07,367.13 417.60,367.11C418.13,367.10 418.67,367.56 419.20,367.60C419.73,367.64 420.27,367.37 420.80,367.36C421.33,367.34 421.87,367.51 422.40,367.52C422.93,367.52 423.47,367.43 424.00,367.40C424.53,367.37 425.07,367.32 425.60,367.33C426.13,367.33 426.67,367.37 427.20,367.41C427.73,367.45 428.27,367.55 428.80,367.55C429.33,367.55 429.87,367.36 430.40,367.40C430.93,367.44 431.47,367.79 432.00,367.80C432.53,367.81 433.07,367.47 433.60,367.47C434.13,367.47 434.67,367.77 435.20,367.82C435.73,367.88 436.27,367.73 436.80,367.79C437.33,367.85 437.87,368.12 438.40,368.19C438.93,368.26 439.47,368.17 440.00,368.22C440.53,368.27 441.07,368.37 441.60,368.48C442.13,368.59 442.67,368.76 443.20,368.87C443.73,368.98 444.17,368.99 444.80,369.12C445.43,369.24 445.47,368.70 447.00,369.60C448.53,370.50 452.25,373.53 454.00,374.50C455.75,375.47 456.42,373.35 457.50,375.40C458.58,377.45 459.68,386.50 460.50,386.80C461.32,387.10 461.73,378.67 462.40,377.20C463.07,375.73 463.57,378.97 464.50,378.00C465.43,377.03 466.68,372.57 468.00,371.40C469.32,370.23 471.32,370.33 472.40,371.00C473.48,371.67 473.85,367.67 474.50,375.40C475.15,383.13 475.68,414.92 476.30,417.40C476.92,419.88 477.48,396.42 478.20,390.30C478.92,384.18 479.82,381.58 480.60,380.70C481.38,379.82 482.13,383.25 482.90,385.00C483.67,386.75 484.32,391.20 485.20,391.20C486.08,391.20 486.97,386.32 488.20,385.00C489.43,383.68 491.43,383.88 492.60,383.30C493.77,382.72 494.38,381.22 495.20,381.50C496.02,381.78 496.63,383.68 497.50,385.00C498.37,386.32 499.47,389.40 500.40,389.40C501.33,389.40 502.07,385.58 503.10,385.00C504.13,384.42 505.28,384.43 506.60,385.90C507.92,387.37 509.60,393.65 511.00,393.80C512.40,393.95 513.98,386.52 515.00,386.80C516.02,387.08 516.17,390.68 517.10,395.50C518.03,400.32 519.50,413.65 520.60,415.70C521.70,417.75 522.60,412.47 523.70,407.80C524.80,403.13 526.12,386.97 527.20,387.70C528.28,388.43 529.32,410.75 530.20,412.20C531.08,413.65 531.62,399.12 532.50,396.40C533.38,393.68 534.57,395.47 535.50,395.90C536.43,396.33 537.08,396.28 538.10,399.00C539.12,401.72 540.43,409.72 541.60,412.20C542.77,414.68 543.78,411.72 545.10,413.90C546.42,416.08 548.18,421.35 549.50,425.30C550.82,429.25 552.03,435.20 553.00,437.60C553.97,440.00 554.48,440.00 555.30,439.70C556.12,439.40 557.03,439.07 557.90,435.80C558.77,432.53 559.48,425.35 560.50,420.10C561.52,414.85 562.83,408.10 564.00,404.30C565.17,400.50 566.18,398.90 567.50,397.30C568.82,395.70 570.43,395.28 571.90,394.70C573.37,394.12 575.13,394.38 576.30,393.80C577.47,393.22 577.88,392.02 578.90,391.20C579.92,390.38 581.52,388.90 582.40,388.90C583.28,388.90 583.62,388.33 584.20,391.20C584.78,394.07 585.32,400.12 585.90,406.10C586.48,412.08 587.12,425.93 587.70,427.10C588.28,428.27 588.68,417.18 589.40,413.10C590.12,409.02 591.03,405.82 592.00,402.60C592.97,399.38 594.17,394.83 595.20,393.80C596.23,392.77 597.20,396.12 598.20,396.40C599.20,396.68 600.18,395.20 601.20,395.50C602.22,395.80 602.77,397.17 604.30,398.20C605.83,399.23 608.65,400.25 610.40,401.70C612.15,403.15 613.63,405.88 614.80,406.90C615.97,407.92 615.93,406.77 617.40,407.80C618.87,408.83 621.83,410.90 623.60,413.10C625.37,415.30 626.60,417.80 628.00,421.00C629.40,424.20 630.83,431.58 632.00,432.30C633.17,433.02 634.07,427.05 635.00,425.30C635.93,423.55 636.28,422.67 637.60,421.80C638.92,420.93 641.15,420.53 642.90,420.10C644.65,419.67 646.93,419.78 648.10,419.20C649.27,418.62 649.32,416.17 649.90,416.60C650.48,417.03 651.02,421.37 651.60,421.80C652.18,422.23 652.82,418.62 653.40,419.20C653.98,419.78 654.67,425.15 655.10,425.30C655.53,425.45 655.65,419.80 656.00,420.10C656.35,420.40 656.82,425.65 657.20,427.10C657.58,428.55 658.12,428.52 658.30,428.80" fill="none" stroke="#525252" style="stroke-width:var(--tw,1.6);stroke-opacity:var(--to,1)" stroke-linejoin="round" stroke-linecap="round"/>
<rect x="68.7" y="30" width="613.8" height="428.5" fill="none" style="stroke:var(--fc,#111)" stroke-width="2.1"/>
<line x1="68.90" y1="458.5" x2="68.90" y2="466.8" style="stroke:var(--fc,#111)" stroke-width="2"/>
<line x1="109.78" y1="458.5" x2="109.78" y2="462.8" style="stroke:var(--fc,#111)" stroke-width="2"/>
<line x1="150.66" y1="458.5" x2="150.66" y2="466.8" style="stroke:var(--fc,#111)" stroke-width="2"/>
<line x1="191.53" y1="458.5" x2="191.53" y2="462.8" style="stroke:var(--fc,#111)" stroke-width="2"/>
<line x1="232.41" y1="458.5" x2="232.41" y2="466.8" style="stroke:var(--fc,#111)" stroke-width="2"/>
<line x1="273.29" y1="458.5" x2="273.29" y2="462.8" style="stroke:var(--fc,#111)" stroke-width="2"/>
<line x1="314.16" y1="458.5" x2="314.16" y2="466.8" style="stroke:var(--fc,#111)" stroke-width="2"/>
<line x1="355.04" y1="458.5" x2="355.04" y2="462.8" style="stroke:var(--fc,#111)" stroke-width="2"/>
<line x1="395.92" y1="458.5" x2="395.92" y2="466.8" style="stroke:var(--fc,#111)" stroke-width="2"/>
<line x1="436.80" y1="458.5" x2="436.80" y2="462.8" style="stroke:var(--fc,#111)" stroke-width="2"/>
<line x1="477.67" y1="458.5" x2="477.67" y2="466.8" style="stroke:var(--fc,#111)" stroke-width="2"/>
<line x1="518.55" y1="458.5" x2="518.55" y2="462.8" style="stroke:var(--fc,#111)" stroke-width="2"/>
<line x1="559.43" y1="458.5" x2="559.43" y2="466.8" style="stroke:var(--fc,#111)" stroke-width="2"/>
<line x1="600.31" y1="458.5" x2="600.31" y2="462.8" style="stroke:var(--fc,#111)" stroke-width="2"/>
<line x1="641.18" y1="458.5" x2="641.18" y2="466.8" style="stroke:var(--fc,#111)" stroke-width="2"/>
<text x="68.90" y="486.5" text-anchor="middle" style="font-family:'Liberation Serif',serif;font-size:19px;stroke:#111;stroke-width:0.3" fill="#111">4000</text>
<text x="150.66" y="486.5" text-anchor="middle" style="font-family:'Liberation Serif',serif;font-size:19px;stroke:#111;stroke-width:0.3" fill="#111">3500</text>
<text x="232.41" y="486.5" text-anchor="middle" style="font-family:'Liberation Serif',serif;font-size:19px;stroke:#111;stroke-width:0.3" fill="#111">3000</text>
<text x="314.16" y="486.5" text-anchor="middle" style="font-family:'Liberation Serif',serif;font-size:19px;stroke:#111;stroke-width:0.3" fill="#111">2500</text>
<text x="395.92" y="486.5" text-anchor="middle" style="font-family:'Liberation Serif',serif;font-size:19px;stroke:#111;stroke-width:0.3" fill="#111">2000</text>
<text x="477.67" y="486.5" text-anchor="middle" style="font-family:'Liberation Serif',serif;font-size:19px;stroke:#111;stroke-width:0.3" fill="#111">1500</text>
<text x="559.43" y="486.5" text-anchor="middle" style="font-family:'Liberation Serif',serif;font-size:19px;stroke:#111;stroke-width:0.3" fill="#111">1000</text>
<text x="641.18" y="486.5" text-anchor="middle" style="font-family:'Liberation Serif',serif;font-size:19px;stroke:#111;stroke-width:0.3" fill="#111">500</text>
<text x="273.6" y="524.8" style="font-family:'Liberation Serif',serif;font-weight:bold;font-size:23.6px;stroke:#000;stroke-width:0.35" fill="#000">Wavenumber (cm-<tspan dx="0" dy="-9.8" style="font-size:15px">1</tspan><tspan dx="0.5" dy="9.8" style="font-size:26px">)</tspan></text>
<rect x="283.8" y="382" width="59.5" height="71.8" fill="#fff" stroke="#6e6e6e" stroke-width="1.3"/>
<line x1="285.5" y1="391.6" x2="320" y2="391.6" stroke="#2ea562" stroke-width="2.1"/>
<text x="323.3" y="396.6" style="font-family:'Liberation Serif',serif;font-size:14.5px;stroke:#111;stroke-width:0.35" fill="#111">H3</text>
<line x1="285.5" y1="409.1" x2="320" y2="409.1" stroke="#1f6ee0" stroke-width="2.1"/>
<text x="323.3" y="413.9" style="font-family:'Liberation Serif',serif;font-size:14.5px;stroke:#111;stroke-width:0.35" fill="#111">H2</text>
<line x1="285.5" y1="426.4" x2="320" y2="426.4" stroke="#ec2f33" stroke-width="2.1"/>
<text x="323.3" y="431.2" style="font-family:'Liberation Serif',serif;font-size:14.5px;stroke:#111;stroke-width:0.35" fill="#111">H1</text>
<line x1="285.5" y1="444.1" x2="320" y2="444.1" stroke="#3a3a3a" stroke-width="2.1"/>
<text x="323.3" y="448.8" style="font-family:'Liberation Serif',serif;font-size:14.5px;stroke:#111;stroke-width:0.35" fill="#111">H0</text>
<line x1="179.70" y1="95.00" x2="186.78" y2="104.64" stroke="#111" stroke-width="1.10"/><path d="M192.40,112.30 L183.77,105.61 L188.60,102.06 Z" fill="#000"/>
<line x1="255.60" y1="86.20" x2="263.06" y2="96.03" stroke="#111" stroke-width="1.10"/><path d="M268.80,103.60 L260.06,97.05 L264.84,93.42 Z" fill="#000"/>
<line x1="458.30" y1="89.20" x2="441.14" y2="101.40" stroke="#111" stroke-width="1.10"/><path d="M433.40,106.90 L440.22,98.37 L443.70,103.26 Z" fill="#000"/>
<line x1="474.90" y1="218.50" x2="457.83" y2="229.77" stroke="#111" stroke-width="1.10"/><path d="M449.90,235.00 L457.01,226.71 L460.32,231.72 Z" fill="#000"/>
<line x1="558.00" y1="260.40" x2="565.89" y2="270.59" stroke="#111" stroke-width="1.10"/><path d="M571.70,278.10 L562.90,271.63 L567.65,267.96 Z" fill="#000"/>
<line x1="522.60" y1="317.90" x2="530.56" y2="328.11" stroke="#111" stroke-width="1.10"/><path d="M536.40,335.60 L527.58,329.16 L532.31,325.47 Z" fill="#000"/>
<line x1="632.50" y1="349.90" x2="639.98" y2="359.27" stroke="#111" stroke-width="1.10"/><path d="M645.90,366.70 L637.01,360.36 L641.70,356.62 Z" fill="#000"/>
<line x1="588.40" y1="428.80" x2="597.15" y2="440.01" stroke="#111" stroke-width="1.10"/><path d="M603.00,447.50 L594.17,441.07 L598.90,437.38 Z" fill="#000"/>
<text x="181.8" y="124.5" style="font-family:'Liberation Serif',serif;font-weight:bold;font-size:12.6px;stroke:#111;stroke-width:var(--tsw,0)" fill="#111">3339.87 cm-<tspan dx="-1.6" dy="-7.5" style="font-size:11.5px">1</tspan></text>
<text x="260.7" y="118.4" style="font-family:'Liberation Serif',serif;font-weight:bold;font-size:12.6px;stroke:#111;stroke-width:var(--tsw,0)" fill="#111">2927.74 cm-<tspan dx="-1.6" dy="-7.5" style="font-size:11.5px">1</tspan></text>
<text x="399.3" y="119.4" style="font-family:'Liberation Serif',serif;font-weight:bold;font-size:12.6px;stroke:#111;stroke-width:var(--tsw,0)" fill="#111">1606.59 cm-<tspan dx="-1.6" dy="-7.5" style="font-size:11.5px">1</tspan></text>
<text x="406.6" y="247.5" style="font-family:'Liberation Serif',serif;font-weight:bold;font-size:12.6px;stroke:#111;stroke-width:var(--tsw,0)" fill="#111">1507.50 cm-<tspan dx="-1.6" dy="-7.5" style="font-size:11.5px">1</tspan></text>
<text x="566.7" y="292.1" style="font-family:'Liberation Serif',serif;font-weight:bold;font-size:12.6px;stroke:#111;stroke-width:var(--tsw,0)" fill="#111">1026.924 cm-<tspan dx="-1.6" dy="-7.5" style="font-size:11.5px">1</tspan></text>
<text x="477.5" y="354.0" style="font-family:'Liberation Serif',serif;font-weight:bold;font-size:12.6px;stroke:#111;stroke-width:var(--tsw,0)" fill="#111">1234.92cm-<tspan dx="-1.6" dy="-7.5" style="font-size:11.5px">1</tspan></text>
<text x="609.1" y="380.9" style="font-family:'Liberation Serif',serif;font-weight:bold;font-size:12.6px;stroke:#111;stroke-width:var(--tsw,0)" fill="#111">556.35 cm-<tspan dx="-1.6" dy="-7.5" style="font-size:11.5px">1</tspan></text>
<text x="606.7" y="448.7" style="font-family:'Liberation Serif',serif;font-weight:bold;font-size:12.6px;stroke:#111;stroke-width:var(--tsw,0)" fill="#111">826.73 cm-<tspan dx="-1.6" dy="-7.5" style="font-size:11.5px">1</tspan></text></g>
<clipPath id="c1"><rect x="62.6" y="635.2" width="134.6" height="366.2"/></clipPath>
<clipPath id="c2"><rect x="504.8" y="635.4" width="163.2" height="388.4"/></clipPath>
<filter id="bl0" filterUnits="userSpaceOnUse" x="0" y="0" width="685" height="1085"><feConvolveMatrix order="3" kernelMatrix="0.01440 0.09120 0.01440 0.09120 0.57760 0.09120 0.01440 0.09120 0.01440" edgeMode="none"/></filter>
<filter id="bl1" filterUnits="userSpaceOnUse" x="0" y="0" width="685" height="1085"><feConvolveMatrix order="3" kernelMatrix="0.04000 0.12000 0.04000 0.12000 0.36000 0.12000 0.04000 0.12000 0.04000" edgeMode="none"/></filter>
<filter id="bl2" filterUnits="userSpaceOnUse" x="0" y="0" width="685" height="1085"><feConvolveMatrix order="3" kernelMatrix="0.02560 0.10880 0.02560 0.10880 0.46240 0.10880 0.02560 0.10880 0.02560" edgeMode="none"/></filter>
</defs>
<rect width="685" height="1085" fill="#fff"/>
<g filter="url(#bl0)"><text transform="translate(0.6,9.9) scale(0.9,1)" style="font-family:'Liberation Serif',serif;font-weight:bold;font-size:19.5px;stroke:#000;stroke-width:0.3" fill="#000">a</text></g>
<g filter="url(#bl0)"><use href="#fig" style="--tsw:0.25"/></g>
<g filter="url(#bl0)"><text x="0.5" y="580.8" style="font-family:'Liberation Serif',serif;font-weight:bold;font-size:19.5px;stroke:#000;stroke-width:0.3" fill="#000">b</text></g>
<g filter="url(#bl1)"><use href="#fig" style="--tw:2.7;--to:0.8;--fc:#4a4a4a;--dc:#7a7a7a" transform="matrix(0.4455,0,0,0.5435,187.9,787.1)"/></g>
<g filter="url(#bl0)"><path d="M62.6,1001.4 L62.6,635.2 L197.2,635.2" fill="none" stroke="#999" stroke-width="1.7"/></g>
<g clip-path="url(#c1)"><g filter="url(#bl2)"><use href="#fig" style="--tw:1.75;--to:0.95;--fc:#333;--dc:#666;--tsw:0.45" transform="matrix(0.7583,0,0,0.8455,-67.83,581.85)"/></g></g>
<g filter="url(#bl0)"><path d="M197.2,636.2 L197.2,1001.4 L63.6,1001.4" fill="none" stroke="#bdbdbd" stroke-width="1" transform="translate(1.4,1.4)"/><path d="M197.2,635.2 L197.2,1001.4 L62.6,1001.4" fill="none" stroke="#757575" stroke-width="2.1"/></g>
<g filter="url(#bl0)"><path d="M505.4,1023.8 L505.4,635.4 L668.0,635.4" fill="none" stroke="#999" stroke-width="1.7"/></g>
<g clip-path="url(#c2)"><g filter="url(#bl2)"><use href="#fig" style="--tw:1.75;--to:0.95;--fc:#333;--dc:#555;--tsw:0.3" transform="matrix(0.8244,0,0,0.905,111.5,579.6)"/></g></g>
<g filter="url(#bl0)"><path d="M668.0,636.4 L668.0,1023.8 L506.4,1023.8" fill="none" stroke="#bdbdbd" stroke-width="1" transform="translate(1.4,1.4)"/><path d="M668.0,635.4 L668.0,1023.8 L505.4,1023.8" fill="none" stroke="#757575" stroke-width="2.1"/></g>
<g filter="url(#bl0)">
<rect x="264.2" y="794" width="84.3" height="263.7" fill="none" stroke="#bb2229" stroke-width="2"/>
<rect x="389.5" y="794" width="97.8" height="263.7" fill="none" stroke="#bb2229" stroke-width="2"/>
<line x1="264.20" y1="794.00" x2="201.01" y2="715.81" stroke="#bb2229" stroke-width="2"/><path d="M198.50,712.70 L202.73,714.43 L199.30,717.19 Z" fill="#bb2229"/>
<line x1="438.10" y1="794.00" x2="502.84" y2="686.53" stroke="#bb2229" stroke-width="2"/><path d="M504.90,683.10 L504.72,687.66 L500.95,685.39 Z" fill="#bb2229"/>
</g>
<g filter="url(#bl0)">
<text transform="translate(115.2,1053.5) scale(0.82,1)" text-anchor="middle" style="font-family:'Liberation Serif',serif;font-weight:bold;font-size:34px" fill="#111">(i)</text>
<text transform="translate(590,1076) scale(0.82,1)" text-anchor="middle" style="font-family:'Liberation Serif',serif;font-weight:bold;font-size:34px" fill="#111">(ii)</text>
</g>
</svg></body></html>
